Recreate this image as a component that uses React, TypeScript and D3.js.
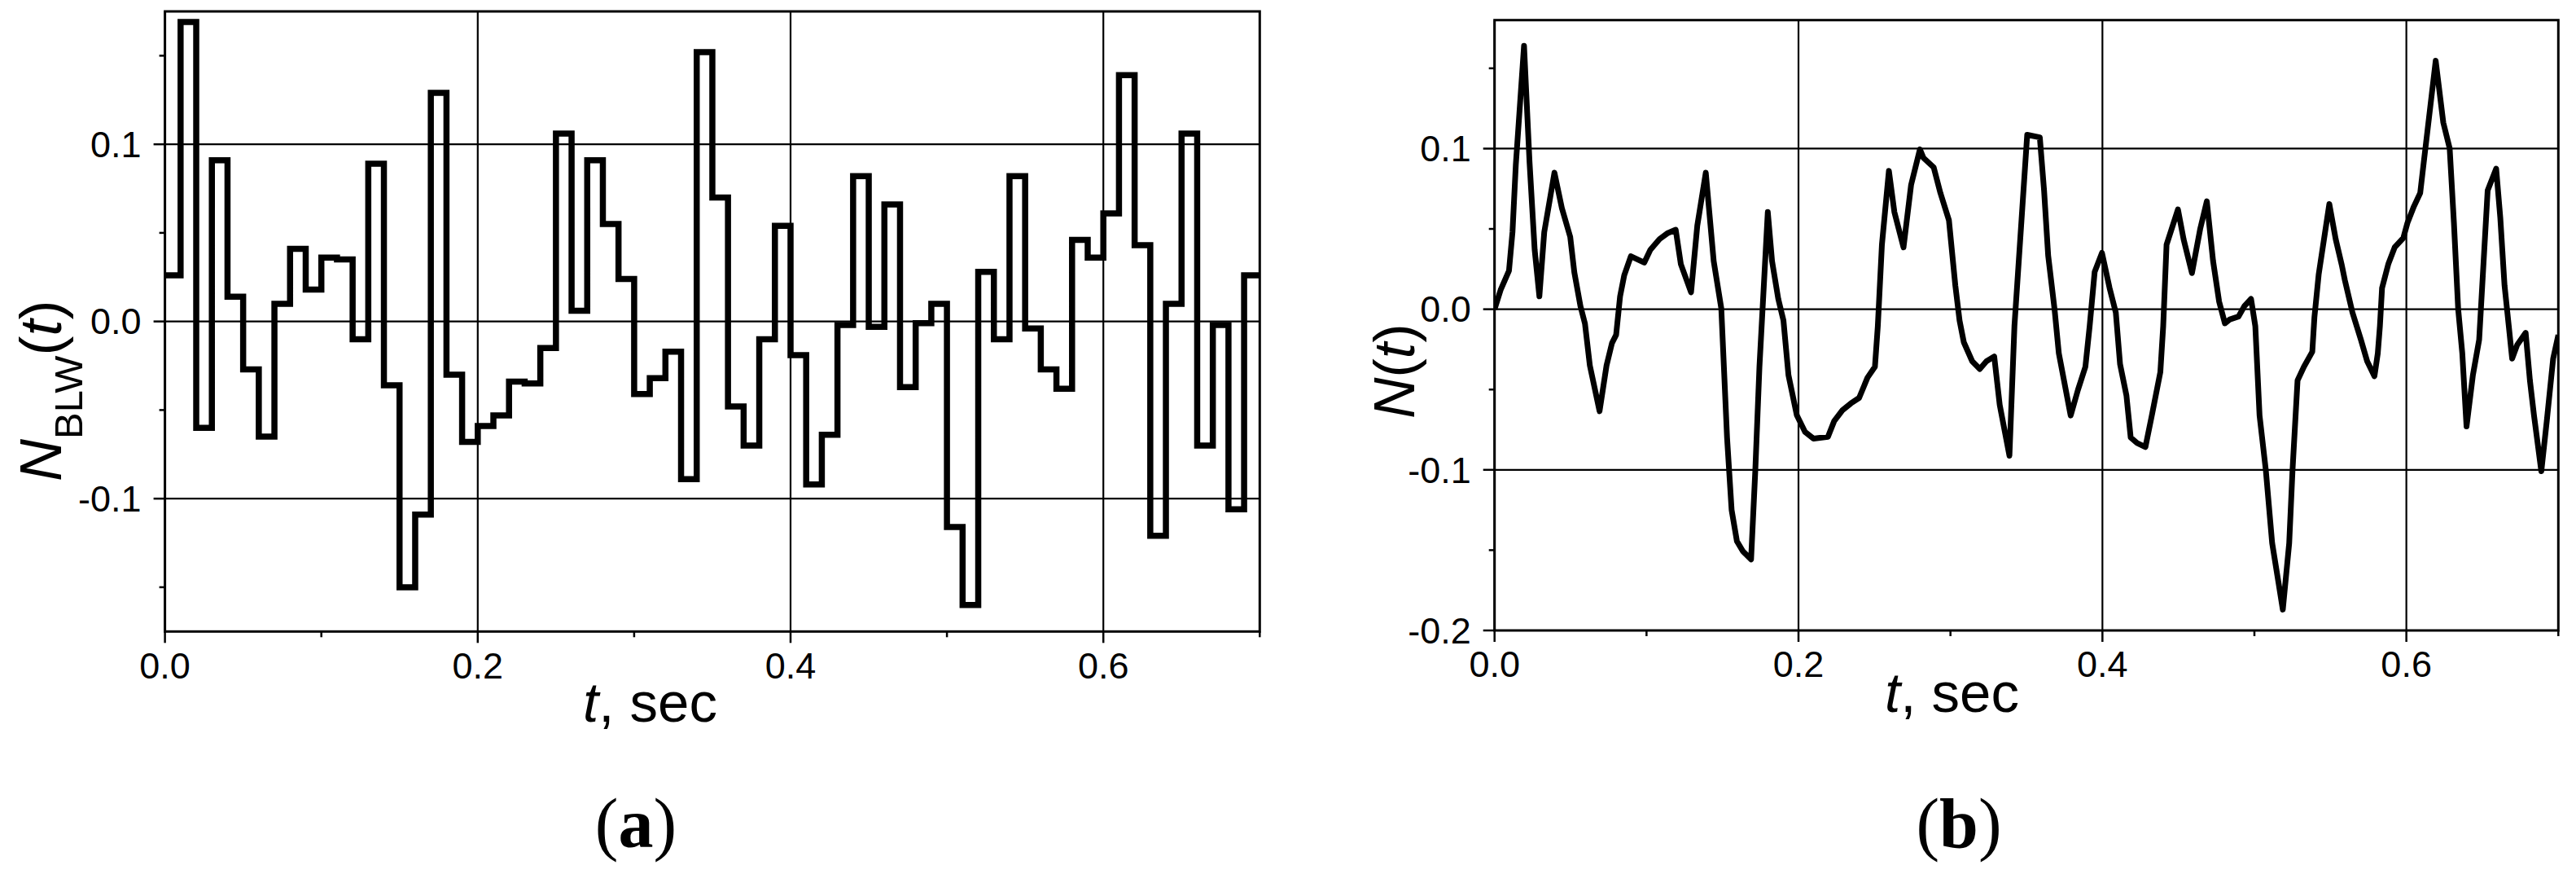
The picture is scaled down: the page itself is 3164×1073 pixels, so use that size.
import React from 'react';
import * as d3 from 'd3';

// ---------- data ----------
// (a) step signal N_BLW(t): start time of each step and its value
const stepTimesA = [
  0.00, 0.01, 0.02, 0.03, 0.04, 0.05, 0.06, 0.07, 0.08, 0.09,
  0.10, 0.11, 0.12, 0.13, 0.14, 0.15, 0.16, 0.17, 0.18, 0.19,
  0.20, 0.21, 0.22, 0.23, 0.24, 0.25, 0.26, 0.27, 0.28, 0.29,
  0.30, 0.31, 0.32, 0.33, 0.34, 0.35, 0.36, 0.37, 0.38, 0.39,
  0.40, 0.41, 0.42, 0.43, 0.44, 0.45, 0.46, 0.47, 0.48, 0.49,
  0.50, 0.51, 0.52, 0.53, 0.54, 0.55, 0.56, 0.57, 0.58, 0.59,
  0.60, 0.61, 0.62, 0.63, 0.64, 0.65, 0.66, 0.67, 0.68, 0.69,
];
const stepValuesA = [
  0.026, 0.169, -0.060, 0.091, 0.014, -0.027, -0.065, 0.010, 0.041, 0.018,
  0.036, 0.035, -0.010, 0.089, -0.036, -0.150, -0.109, 0.129, -0.030, -0.068,
  -0.059, -0.053, -0.034, -0.035, -0.015, 0.106, 0.006, 0.091, 0.055, 0.024,
  -0.041, -0.032, -0.017, -0.089, 0.152, 0.070, -0.048, -0.070, -0.010, 0.054,
  -0.019, -0.092, -0.064, -0.002, 0.082, -0.003, 0.066, -0.037, -0.001, 0.010,
  -0.116, -0.160, 0.028, -0.010, 0.082, -0.004, -0.027, -0.038, 0.046, 0.036,
  0.061, 0.139, 0.043, -0.121, 0.010, 0.106, -0.070, -0.002, -0.106, 0.026,
];
const endTimeA = 0.7;

// (b) continuous signal N(t)
const timesB = [
  0, 0.004, 0.0095, 0.0118, 0.014, 0.0194, 0.023, 0.0264, 0.0295, 0.0327,
  0.0394, 0.0443, 0.0498, 0.0525, 0.0565, 0.0595, 0.0627, 0.0691, 0.0737, 0.0773,
  0.08, 0.0826, 0.0853, 0.0897, 0.0985, 0.1025, 0.1086, 0.1136, 0.1192, 0.1226,
  0.1293, 0.1334, 0.139, 0.1442, 0.1492, 0.153, 0.156, 0.1595, 0.1634, 0.1688,
  0.1716, 0.1743, 0.1798, 0.1826, 0.1867, 0.1901, 0.1934, 0.1989, 0.2043, 0.2099,
  0.2194, 0.2235, 0.229, 0.2345, 0.2399, 0.2454, 0.2503, 0.2522, 0.2549, 0.2595,
  0.2631, 0.2691, 0.2741, 0.2799, 0.2822, 0.289, 0.2934, 0.299, 0.3032, 0.306,
  0.3088, 0.3143, 0.3193, 0.3237, 0.3288, 0.3324, 0.3388, 0.3421, 0.3505, 0.3588,
  0.3616, 0.3643, 0.3685, 0.3713, 0.3791, 0.3839, 0.3888, 0.3916, 0.3949, 0.3997,
  0.4047, 0.4088, 0.4116, 0.4158, 0.4186, 0.4228, 0.4283, 0.4325, 0.4381, 0.44,
  0.4422, 0.4497, 0.4534, 0.4589, 0.4644, 0.4687, 0.4728, 0.4768, 0.4806, 0.4839,
  0.4895, 0.4936, 0.4978, 0.5006, 0.5034, 0.5075, 0.5117, 0.5187, 0.5229, 0.5251,
  0.5284, 0.5326, 0.5381, 0.5395, 0.5423, 0.5493, 0.5535, 0.5575, 0.5595, 0.5645,
  0.5701, 0.5742, 0.579, 0.5812, 0.5826, 0.584, 0.5882, 0.5923, 0.598, 0.6007,
  0.6049, 0.6091, 0.6118, 0.6193, 0.6243, 0.6285, 0.6313, 0.6341, 0.6368, 0.6396,
  0.6438, 0.6479, 0.6535, 0.6591, 0.6618, 0.6646, 0.6674, 0.6696, 0.6729, 0.6785,
  0.6813, 0.684, 0.6888, 0.6924, 0.6966, 0.7,
];
const valuesB = [
  0, 0.012, 0.024, 0.048, 0.09, 0.164, 0.092, 0.037, 0.008, 0.048,
  0.085, 0.063, 0.045, 0.023, 0.002, -0.009, -0.035, -0.0635, -0.035, -0.021,
  -0.016, 0.008, 0.021, 0.033, 0.029, 0.037, 0.0437, 0.0472, 0.0495, 0.028,
  0.0105, 0.052, 0.085, 0.030, 0.0005, -0.08, -0.125, -0.1445, -0.1507, -0.1558,
  -0.1, -0.036, 0.0605, 0.030, 0.0064, -0.007, -0.041, -0.066, -0.0764, -0.0806,
  -0.0794, -0.0696, -0.0628, -0.0586, -0.0552, -0.0426, -0.0358, -0.0105, 0.0402, 0.0862,
  0.0605, 0.0385, 0.0774, 0.0995, 0.0943, 0.0883, 0.0723, 0.0554, 0.0148, -0.0071,
  -0.0206, -0.0324, -0.0372, -0.0324, -0.0294, -0.0595, -0.0912, -0.0105, 0.1086, 0.107,
  0.074, 0.0334, 0, -0.0274, -0.0662, -0.0502, -0.0358, -0.0105, 0.0233, 0.0351,
  0.0132, -0.002, -0.0342, -0.0537, -0.0799, -0.0833, -0.0858, -0.0662, -0.0392, -0.0105,
  0.0402, 0.0621, 0.0436, 0.0225, 0.0503, 0.0672, 0.0301, 0.0047, -0.0088, -0.0063,
  -0.0046, 0.0022, 0.0064, -0.0105, -0.0662, -0.1, -0.1457, -0.187, -0.1457, -0.1,
  -0.0443, -0.0358, -0.0265, -0.005, 0.0216, 0.0655, 0.0436, 0.0275, 0.0182, -0.002,
  -0.019, -0.0324, -0.0417, -0.0274, -0.0105, 0.0132, 0.0284, 0.0385, 0.0444, 0.0537,
  0.0639, 0.0723, 0.0943, 0.1547, 0.1162, 0.1002, 0.0537, 0, -0.0274, -0.073,
  -0.0409, -0.019, 0.074, 0.0875, 0.0571, 0.0148, -0.0105, -0.0307, -0.0223, -0.0147,
  -0.0443, -0.0662, -0.1009, -0.0696, -0.0307, -0.016,
];

// ---------- axes ticks ----------
const xDomain = [0, 0.7];
const xMajorTicks = [0, 0.2, 0.4, 0.6];
const xMajorLabels = ['0.0', '0.2', '0.4', '0.6'];
const xMinorTicks = [0.1, 0.3, 0.5, 0.7];

const yDomainA = [-0.175, 0.175];
const yMajorTicksA = [-0.1, 0, 0.1];
const yMajorLabelsA = ['-0.1', '0.0', '0.1'];
const yMinorTicksA = [-0.15, -0.05, 0.05, 0.15];

const yDomainB = [-0.2, 0.18];
const yMajorTicksB = [-0.2, -0.1, 0, 0.1];
const yMajorLabelsB = ['-0.2', '-0.1', '0.0', '0.1'];
const yMinorTicksB = [-0.15, -0.05, 0.05, 0.15];

const SANS = '"Liberation Sans", Arial, Helvetica, sans-serif';
const SERIF = '"Liberation Serif", "Times New Roman", serif';

type PanelProps = {
  id: string;
  left: number;
  right: number;
  top: number;
  bottom: number;
  yDomain: number[];
  yMajor: number[];
  yMajorLabels: string[];
  yMinor: number[];
  pathFn: (x: d3.ScaleLinear<number, number>, y: d3.ScaleLinear<number, number>) => string;
  strokeWidth: number;
  lineJoin: 'miter' | 'round';
  xLabelX: number;
  xLabelY: number;
  tickLabelBaseline: number;
};

function Panel(p: PanelProps) {
  const x = d3.scaleLinear().domain(xDomain).range([p.left, p.right]);
  const y = d3.scaleLinear().domain(p.yDomain).range([p.bottom, p.top]);
  const majorLen = 14;
  const minorLen = 7;
  return (
    <g>
      <defs>
        <clipPath id={p.id}>
          <rect x={p.left} y={p.top} width={p.right - p.left} height={p.bottom - p.top} />
        </clipPath>
      </defs>
      {/* grid */}
      {xMajorTicks.map((t) => (
        <line key={'gx' + t} x1={x(t)} x2={x(t)} y1={p.top} y2={p.bottom} stroke="#000" strokeWidth={2.2} />
      ))}
      {p.yMajor.map((v) => (
        <line key={'gy' + v} x1={p.left} x2={p.right} y1={y(v)} y2={y(v)} stroke="#000" strokeWidth={2.2} />
      ))}
      {/* data */}
      <path
        d={p.pathFn(x, y)}
        fill="none"
        stroke="#000"
        strokeWidth={p.strokeWidth}
        strokeLinejoin={p.lineJoin}
        clipPath={`url(#${p.id})`}
      />
      {/* frame */}
      <rect x={p.left} y={p.top} width={p.right - p.left} height={p.bottom - p.top} fill="none" stroke="#000" strokeWidth={3} />
      {/* x ticks */}
      {xMajorTicks.map((t) => (
        <line key={'xt' + t} x1={x(t)} x2={x(t)} y1={p.bottom} y2={p.bottom + majorLen} stroke="#000" strokeWidth={2.5} />
      ))}
      {xMinorTicks.map((t) => (
        <line key={'xm' + t} x1={x(t)} x2={x(t)} y1={p.bottom} y2={p.bottom + minorLen} stroke="#000" strokeWidth={2.5} />
      ))}
      {/* y ticks */}
      {p.yMajor.map((v) => (
        <line key={'yt' + v} x1={p.left - majorLen} x2={p.left} y1={y(v)} y2={y(v)} stroke="#000" strokeWidth={2.5} />
      ))}
      {p.yMinor.map((v) => (
        <line key={'ym' + v} x1={p.left - minorLen} x2={p.left} y1={y(v)} y2={y(v)} stroke="#000" strokeWidth={2.5} />
      ))}
      {/* tick labels */}
      {xMajorTicks.map((t, i) => (
        <text key={'xl' + t} x={x(t)} y={p.tickLabelBaseline} textAnchor="middle" fontFamily={SANS} fontSize={45} fill="#000">
          {xMajorLabels[i]}
        </text>
      ))}
      {p.yMajor.map((v, i) => (
        <text key={'yl' + v} x={p.left - 29} y={y(v)} dy="0.35em" textAnchor="end" fontFamily={SANS} fontSize={45} fill="#000">
          {p.yMajorLabels[i]}
        </text>
      ))}
      {/* x axis title */}
      <text x={p.xLabelX} y={p.xLabelY} fontFamily={SANS} fontSize={69} fill="#000">
        <tspan fontStyle="italic">t</tspan>
        <tspan>, sec</tspan>
      </text>
    </g>
  );
}

export default function App() {
  const stepPath = (x: d3.ScaleLinear<number, number>, y: d3.ScaleLinear<number, number>) => {
    const pts: [number, number][] = stepTimesA.map((t, i) => [t, stepValuesA[i]]);
    pts.push([endTimeA, stepValuesA[stepValuesA.length - 1]]);
    const gen = d3
      .line<[number, number]>()
      .x((d) => x(d[0]))
      .y((d) => y(d[1]))
      .curve(d3.curveStepAfter);
    return gen(pts) || '';
  };
  const linePath = (x: d3.ScaleLinear<number, number>, y: d3.ScaleLinear<number, number>) => {
    const pts: [number, number][] = timesB.map((t, i) => [t, valuesB[i]]);
    const gen = d3
      .line<[number, number]>()
      .x((d) => x(d[0]))
      .y((d) => y(d[1]));
    return gen(pts) || '';
  };

  return (
    <svg
      width={3164}
      height={1073}
      viewBox="0 0 3164 1073"
      style={{ position: 'absolute', left: 0, top: 0, display: 'block', background: '#fff' }}
    >
      <rect x={0} y={0} width={3164} height={1073} fill="#fff" />
      <Panel
        id="clipA"
        left={202.6}
        right={1547.3}
        top={14}
        bottom={775.3}
        yDomain={yDomainA}
        yMajor={yMajorTicksA}
        yMajorLabels={yMajorLabelsA}
        yMinor={yMinorTicksA}
        pathFn={stepPath}
        strokeWidth={7.5}
        lineJoin="miter"
        xLabelX={716}
        xLabelY={886}
        tickLabelBaseline={833}
      />
      <Panel
        id="clipB"
        left={1835.7}
        right={3142.3}
        top={24.7}
        bottom={774}
        yDomain={yDomainB}
        yMajor={yMajorTicksB}
        yMajorLabels={yMajorLabelsB}
        yMinor={yMinorTicksB}
        pathFn={linePath}
        strokeWidth={7}
        lineJoin="round"
        xLabelX={2315}
        xLabelY={874}
        tickLabelBaseline={831}
      />
      {/* y axis titles */}
      <text transform="translate(75,591) rotate(-90)" fontFamily={SANS} fontSize={72} fill="#000">
        <tspan fontStyle="italic">N</tspan>
        <tspan fontSize={49} dy={26}>BLW</tspan>
        <tspan dy={-26}>(</tspan>
        <tspan fontStyle="italic">t</tspan>
        <tspan>)</tspan>
      </text>
      <text transform="translate(1737,514) rotate(-90)" fontFamily={SANS} fontSize={70} fill="#000">
        <tspan fontStyle="italic">N</tspan>
        <tspan>(</tspan>
        <tspan fontStyle="italic">t</tspan>
        <tspan>)</tspan>
      </text>
      {/* panel captions */}
      <text x={781} y={1040} textAnchor="middle" fontFamily={SERIF} fontSize={86} fill="#000">
        <tspan>(</tspan>
        <tspan fontWeight="bold">a</tspan>
        <tspan>)</tspan>
      </text>
      <text x={2406} y={1040} textAnchor="middle" fontFamily={SERIF} fontSize={86} fill="#000">
        <tspan>(</tspan>
        <tspan fontWeight="bold">b</tspan>
        <tspan>)</tspan>
      </text>
    </svg>
  );
}
